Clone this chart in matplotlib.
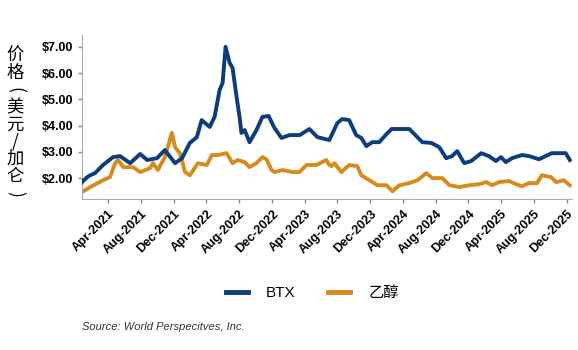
import pandas as pd
import matplotlib.pyplot as plt
import matplotlib.dates as mdates

plt.rcParams['font.family'] = ['Liberation Sans', 'Noto Sans CJK SC', 'DejaVu Sans']

# BTX price, $/gal
btx_dates = ['2020-12-24', '2021-01-10', '2021-01-23', '2021-02-10', '2021-03-12', '2021-04-18',
             '2021-05-14', '2021-06-21',
             '2021-07-28', '2021-08-23', '2021-09-29', '2021-10-28', '2021-12-05', '2021-12-31',
             '2022-01-29', '2022-02-24', '2022-03-14', '2022-04-13', '2022-05-01', '2022-05-20',
             '2022-05-31', '2022-06-11', '2022-06-26', '2022-07-07', '2022-07-22', '2022-08-02',
             '2022-08-09', '2022-08-21', '2022-09-08', '2022-10-04', '2022-10-26', '2022-11-18',
             '2022-12-10', '2023-01-05', '2023-02-04', '2023-03-14', '2023-04-19', '2023-05-19',
             '2023-07-02', '2023-08-01', '2023-08-19', '2023-09-14', '2023-10-10', '2023-10-29',
             '2023-11-17', '2023-12-09', '2024-01-04', '2024-01-31', '2024-02-19', '2024-03-19',
             '2024-04-25', '2024-05-21', '2024-06-12', '2024-07-16', '2024-08-14', '2024-09-09',
             '2024-10-01', '2024-10-20', '2024-11-15', '2024-12-11', '2025-01-17', '2025-02-15',
             '2025-03-13', '2025-04-01', '2025-04-19', '2025-05-12', '2025-06-18', '2025-07-14',
             '2025-08-20', '2025-10-07', '2025-11-28', '2025-12-13']
btx = [1.85, 2.02, 2.11, 2.19, 2.50, 2.80,
       2.84, 2.57,
       2.92, 2.69, 2.76, 3.07, 2.57, 2.76,
       3.34, 3.56, 4.21, 3.95, 4.33, 5.36,
       5.63, 7.00, 6.39, 6.20, 5.09, 4.33,
       3.72, 3.83, 3.37, 3.83, 4.33, 4.37,
       3.91, 3.53, 3.64, 3.64, 3.87, 3.56,
       3.45, 4.10, 4.25, 4.21, 3.64, 3.53,
       3.22, 3.37, 3.37, 3.68, 3.87, 3.87,
       3.87, 3.60, 3.37, 3.34, 3.18, 2.76,
       2.84, 3.03, 2.57, 2.65, 2.95, 2.84,
       2.65, 2.80, 2.61, 2.76, 2.88, 2.84,
       2.72, 2.95, 2.95, 2.69]

# Ethanol price, $/gal
eth_dates = ['2020-12-24', '2021-01-23', '2021-03-12', '2021-04-07', '2021-04-26', '2021-05-07',
             '2021-05-26', '2021-07-02', '2021-07-28', '2021-09-03', '2021-09-14', '2021-10-02',
             '2021-10-28', '2021-11-23', '2021-12-05', '2021-12-23', '2022-01-11', '2022-01-29',
             '2022-02-28', '2022-04-02', '2022-04-21', '2022-05-13', '2022-06-15', '2022-07-07',
             '2022-07-26', '2022-08-21', '2022-09-08', '2022-10-04', '2022-10-26', '2022-11-10',
             '2022-11-29', '2022-12-10', '2023-01-09', '2023-02-15', '2023-03-13', '2023-04-08',
             '2023-05-15', '2023-06-21', '2023-07-02', '2023-07-10', '2023-07-21', '2023-08-16',
             '2023-09-14', '2023-10-14', '2023-10-29', '2023-11-28', '2023-12-28', '2024-01-31',
             '2024-02-22', '2024-03-19', '2024-04-25', '2024-05-25', '2024-06-27', '2024-07-20',
             '2024-08-26', '2024-09-21', '2024-10-28', '2024-12-04', '2025-01-10', '2025-02-05',
             '2025-02-27', '2025-03-25', '2025-05-01', '2025-05-27', '2025-06-18', '2025-07-14',
             '2025-08-13', '2025-08-31', '2025-10-04', '2025-10-23', '2025-11-21', '2025-12-13']
ethanol = [1.47, 1.66, 1.92, 2.04, 2.57, 2.69,
           2.42, 2.42, 2.23, 2.38, 2.57, 2.31,
           2.80, 3.72, 3.18, 2.95, 2.23, 2.11,
           2.57, 2.50, 2.88, 2.88, 2.95, 2.57,
           2.69, 2.61, 2.42, 2.57, 2.80, 2.72,
           2.31, 2.23, 2.31, 2.23, 2.23, 2.50,
           2.50, 2.69, 2.50, 2.46, 2.57, 2.23,
           2.50, 2.46, 2.11, 1.92, 1.73, 1.73,
           1.50, 1.73, 1.81, 1.92, 2.19, 2.00,
           2.00, 1.73, 1.66, 1.73, 1.77, 1.85,
           1.73, 1.85, 1.89, 1.77, 1.69, 1.81,
           1.81, 2.11, 2.04, 1.85, 1.92, 1.73]

y_ticks = [2, 3, 4, 5, 6, 7]
x_ticks = pd.date_range('2021-04-01', '2025-12-01', freq='4MS')
ylabel_chars = ['价', '格', '(', '美', '元', '/', '加', '仑', ')']

btx_color = '#0d3d7b'
eth_color = '#d68b1f'

fig = plt.figure(figsize=(5.78, 3.5), dpi=100)
ax = fig.add_axes([0.142, 0.431, 0.848, 0.469])

ax.plot(pd.to_datetime(eth_dates), ethanol, color=eth_color, lw=2.8, label='乙醇', zorder=2)
ax.plot(pd.to_datetime(btx_dates), btx, color=btx_color, lw=2.8, label='BTX', zorder=3)

ax.set_ylim(1.2, 7.45)
ax.set_xlim(pd.Timestamp('2020-12-24'), pd.Timestamp('2025-12-22'))
ax.set_yticks(y_ticks)
ax.set_yticklabels([f'${v:.2f}' for v in y_ticks], fontweight='bold', fontsize=9)
ax.set_xticks(x_ticks)
ax.xaxis.set_major_formatter(mdates.DateFormatter('%b-%Y'))
plt.setp(ax.get_xticklabels(), rotation=45, ha='right', rotation_mode='anchor',
         fontweight='bold', fontsize=9)
ax.tick_params(axis='both', colors='#888888', labelcolor='black', length=3, width=1)

for s in ['top', 'right']:
    ax.spines[s].set_visible(False)
for s in ['left', 'bottom']:
    ax.spines[s].set_color('#aaaaaa')

# stacked vertical axis title, brackets turned sideways
for i, ch in enumerate(ylabel_chars):
    rot = -90 if ch in '()' else 0
    fig.text(15 / 578, 1 - (56 + i * 17.2) / 350, ch, ha='center', va='center', fontsize=12.5,
             rotation=rot, family=['Noto Sans CJK SC', 'DejaVu Sans'])

handles, labels = ax.get_legend_handles_labels()
leg = fig.legend(handles[::-1], labels[::-1], loc='center', bbox_to_anchor=(0.54, 0.163),
                 ncol=2, frameon=False, fontsize=11, handlelength=1.45, handletextpad=1.2,
                 columnspacing=2.1)
for line in leg.get_lines():
    line.set_linewidth(3.5)

fig.text(0.142, 0.066, 'Source: World Perspecitves, Inc.', fontsize=8, style='italic',
         color='#333333', va='center')

fig.savefig('out.png', dpi=100)
